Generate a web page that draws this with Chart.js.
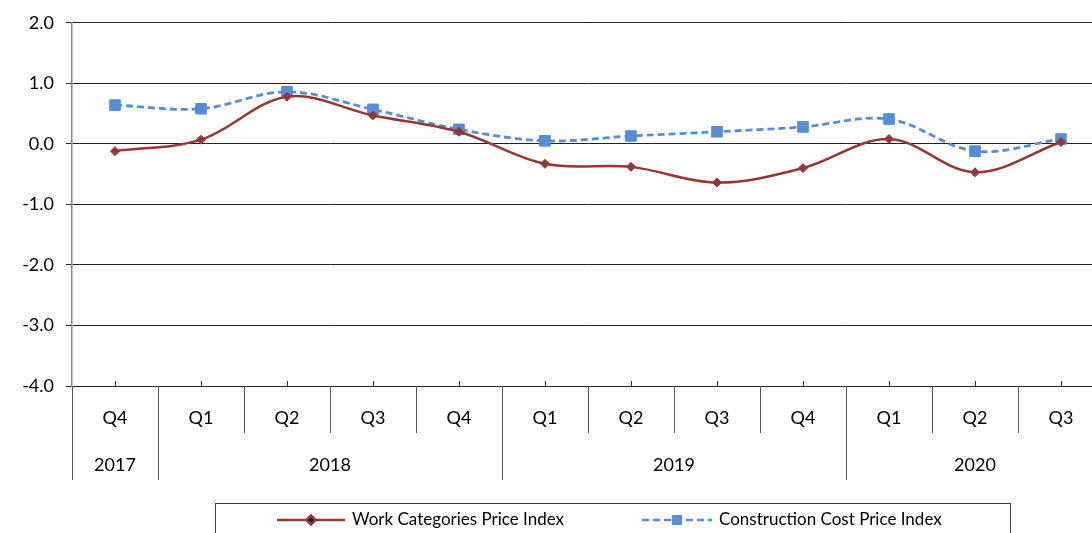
<!DOCTYPE html>
<html>
<head>
<meta charset="utf-8">
<script src="https://cdn.jsdelivr.net/npm/chart.js@4"></script>
<style>
  body { margin: 0; background: #fff; overflow: hidden; }
  canvas { display: block; }
</style>
</head>
<body>
<!-- the plot runs a little past the right edge of the window, as in the original -->
<canvas id="myChart" width="1104" height="533"></canvas>
<script>
// quarters and the year each group of quarters belongs to
const quarters = ["Q4", "Q1", "Q2", "Q3", "Q4", "Q1", "Q2", "Q3", "Q4", "Q1", "Q2", "Q3"];
const years = ["2017", "2018", "2019", "2020"];
const yearSpans = [1, 4, 4, 3];

// values (% change)
const workCategories = [-0.12, 0.07, 0.78, 0.47, 0.2, -0.33, -0.38, -0.64, -0.4, 0.08, -0.47, 0.03];
const constructionCost = [0.64, 0.58, 0.86, 0.57, 0.24, 0.05, 0.13, 0.2, 0.28, 0.41, -0.12, 0.08];

const yTicks = [-4, -3, -2, -1, 0, 1, 2];

const FONT = "Lato, 'Open Sans', sans-serif";
const RED = "#953735";
const BLUE = "#558ED5";

// draws the two-row category axis and the boxed legend
const axisAndLegend = {
  id: "axisAndLegend",
  afterDraw(chart) {
    const ctx = chart.ctx;
    const x = chart.scales.x;
    const area = chart.chartArea;
    const half = (x.getPixelForValue(1) - x.getPixelForValue(0)) / 2;
    const bottom = area.bottom;

    ctx.save();
    // little tick marks above the axis at each category
    ctx.strokeStyle = "#333";
    ctx.lineWidth = 1;
    for (let i = 0; i < quarters.length; i++) {
      const px = Math.round(x.getPixelForValue(i)) + 0.5;
      ctx.beginPath();
      ctx.moveTo(px, bottom - 5);
      ctx.lineTo(px, bottom);
      ctx.stroke();
    }

    // year boundaries
    const yearEdges = [0];
    yearSpans.forEach((s) => yearEdges.push(yearEdges[yearEdges.length - 1] + s));

    ctx.strokeStyle = "#595959";
    for (let i = 0; i <= quarters.length; i++) {
      const px = Math.round(x.getPixelForValue(i) - half) + 0.5;
      const long = yearEdges.includes(i);
      ctx.beginPath();
      ctx.moveTo(px, bottom);
      ctx.lineTo(px, long ? bottom + 94 : bottom + 47);
      ctx.stroke();
    }

    ctx.fillStyle = "#000";
    ctx.font = "18px " + FONT;
    ctx.textAlign = "center";
    ctx.textBaseline = "middle";
    quarters.forEach((q, i) => {
      ctx.fillText(q, x.getPixelForValue(i), bottom + 32);
    });
    years.forEach((y, i) => {
      const a = x.getPixelForValue(yearEdges[i]) - half;
      const b = x.getPixelForValue(yearEdges[i + 1]) - half;
      ctx.fillText(y, (a + b) / 2, bottom + 79);
    });

    // legend box
    ctx.strokeStyle = "#404040";
    ctx.strokeRect(215.5, 503.5, 795, 40);
    ctx.font = "17px " + FONT;
    ctx.textAlign = "left";
    const ly = 520;

    ctx.strokeStyle = RED;
    ctx.lineWidth = 2.5;
    ctx.beginPath();
    ctx.moveTo(277, ly);
    ctx.lineTo(345, ly);
    ctx.stroke();
    Chart.helpers.drawPoint(ctx, { pointStyle: "rectRot", radius: 4.5, borderWidth: 1 }, 311, ly);
    ctx.fillStyle = "#000";
    ctx.fillText("Work Categories Price Index", 352, ly);

    ctx.strokeStyle = BLUE;
    ctx.setLineDash([7, 4]);
    ctx.beginPath();
    ctx.moveTo(642, ly);
    ctx.lineTo(712, ly);
    ctx.stroke();
    ctx.setLineDash([]);
    ctx.fillStyle = BLUE;
    ctx.lineWidth = 1;
    Chart.helpers.drawPoint(ctx, { pointStyle: "rect", radius: 6.5, borderWidth: 1 }, 677, ly);
    ctx.fillStyle = "#000";
    ctx.fillText("Construction Cost Price Index", 719, ly);
    ctx.restore();
  },
};

const ctx = document.getElementById("myChart").getContext("2d");

new Chart(ctx, {
  type: "line",
  data: {
    labels: quarters,
    datasets: [
      {
        label: "Work Categories Price Index",
        data: workCategories,
        borderColor: RED,
        backgroundColor: RED,
        borderWidth: 2.5,
        tension: 0.35,
        pointStyle: "rectRot",
        pointRadius: 4.5,
        pointBorderWidth: 1,
      },
      {
        label: "Construction Cost Price Index",
        data: constructionCost,
        borderColor: BLUE,
        backgroundColor: BLUE,
        borderWidth: 2.8,
        borderDash: [7, 4],
        tension: 0.35,
        pointStyle: "rect",
        pointRadius: 7.5,
        pointBorderWidth: 1,
      },
    ],
  },
  options: {
    responsive: false,
    animation: false,
    layout: { autoPadding: false, padding: { top: 22, right: 0, left: 0, bottom: 0 } },
    plugins: {
      legend: { display: false },
      tooltip: { enabled: false },
    },
    scales: {
      x: {
        offset: true,
        grid: { display: false },
        ticks: { display: false },
        border: { display: false },
        afterFit: (s) => { s.height = 147; },
      },
      y: {
        min: -4,
        max: 2,
        afterBuildTicks: (s) => { s.ticks = yTicks.map((v) => ({ value: v })); },
        afterFit: (s) => { s.width = 72; },
        ticks: {
          color: "#000",
          font: { family: FONT, size: 18 },
          padding: 12,
          callback: (v) => v.toFixed(1),
        },
        grid: { color: "#222", lineWidth: 1, tickLength: 6 },
        border: { color: "#888", width: 1.5 },
      },
    },
  },
  plugins: [axisAndLegend],
});
</script>
</body>
</html>
